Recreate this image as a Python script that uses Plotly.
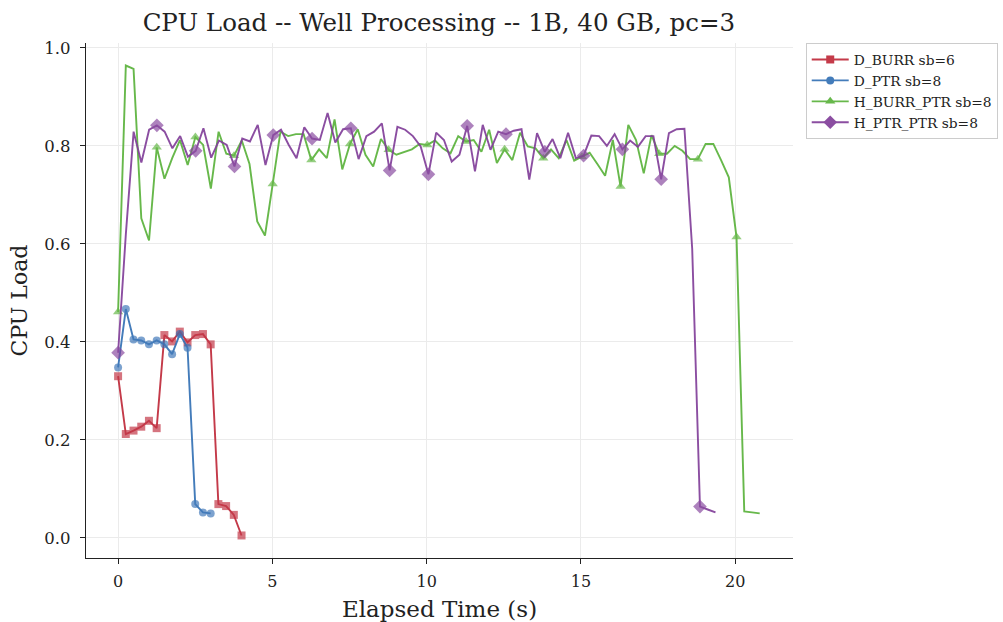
import plotly.graph_objects as go

# ---- data (CPU load sampled at regular intervals) ----
d_burr = [0.330, 0.212, 0.219, 0.227, 0.239, 0.224, 0.414, 0.401, 0.421, 0.399,
          0.414, 0.416, 0.395, 0.069, 0.065, 0.047, 0.005]
d_ptr = [0.348, 0.467, 0.405, 0.403, 0.395, 0.403, 0.395, 0.375, 0.416, 0.388,
         0.069, 0.052, 0.050]
h_burr_ptr = [0.461, 0.964, 0.957, 0.652, 0.607, 0.797, 0.733, 0.775, 0.812, 0.761,
              0.818, 0.802, 0.713, 0.829, 0.784, 0.780, 0.811, 0.763, 0.646, 0.617,
              0.722, 0.829, 0.820, 0.824, 0.824, 0.771, 0.793, 0.775, 0.854, 0.752,
              0.804, 0.834, 0.782, 0.758, 0.814, 0.792, 0.782, 0.788, 0.793, 0.804,
              0.802, 0.811, 0.795, 0.785, 0.820, 0.809, 0.812, 0.788, 0.833, 0.765,
              0.793, 0.771, 0.827, 0.799, 0.795, 0.775, 0.793, 0.775, 0.812, 0.770,
              0.778, 0.786, 0.763, 0.739, 0.812, 0.717, 0.843, 0.812, 0.744, 0.822,
              0.784, 0.784, 0.800, 0.790, 0.773, 0.773, 0.804, 0.804, 0.771, 0.736,
              0.614, 0.054, 0.052, 0.050]
h_ptr_ptr = [0.378, 0.620, 0.829, 0.766, 0.833, 0.842, 0.829, 0.795, 0.820, 0.778,
             0.790, 0.836, 0.776, 0.811, 0.802, 0.758, 0.815, 0.809, 0.843, 0.761,
             0.822, 0.833, 0.802, 0.775, 0.838, 0.815, 0.812, 0.867, 0.807, 0.834,
             0.836, 0.773, 0.820, 0.829, 0.846, 0.750, 0.839, 0.833, 0.820, 0.799,
             0.742, 0.827, 0.812, 0.768, 0.782, 0.841, 0.748, 0.843, 0.792, 0.829,
             0.824, 0.831, 0.834, 0.731, 0.826, 0.788, 0.814, 0.775, 0.827, 0.775,
             0.780, 0.821, 0.820, 0.800, 0.824, 0.793, 0.811, 0.798, 0.820, 0.820,
             0.732, 0.826, 0.834, 0.835, 0.590, 0.064, 0.058, 0.052]

# sampling interval (s) of each run
dt_d_burr = 0.25
dt_d_ptr = 0.25
dt_h_burr_ptr = 0.2505
dt_h_ptr_ptr = 0.2514

names = ["D_BURR sb=6", "D_PTR sb=8", "H_BURR_PTR sb=8", "H_PTR_PTR sb=8"]
x_ticks = [0, 5, 10, 15, 20]
y_ticks = [0.0, 0.2, 0.4, 0.6, 0.8, 1.0]


def times(vals, dt):
    return [round(i * dt, 4) for i in range(len(vals))]


FONT = "DejaVu Serif"
series = [
    (d_burr, dt_d_burr, names[0], "#bf2a3a", "square", 8, 1),
    (d_ptr, dt_d_ptr, names[1], "#3471b5", "circle", 8, 1),
    (h_burr_ptr, dt_h_burr_ptr, names[2], "#5bb33c", "triangle-up", 9, 5),
    (h_ptr_ptr, dt_h_ptr_ptr, names[3], "#823f9a", "diamond", 10.5, 5),
]

fig = go.Figure()
for k, (vals, dt, name, color, symbol, msize, every) in enumerate(series):
    sizes = [msize if i % every == 0 else 0 for i in range(len(vals))]
    fig.add_trace(go.Scatter(
        x=times(vals, dt), y=vals, name=name, mode="lines+markers",
        line=dict(color=color, width=1.9),
        marker=dict(symbol=symbol, size=sizes, color=color, line=dict(width=0)),
        opacity=0.92, showlegend=False, legendgroup=name,
    ))
    # legend entry (line + marker)
    fig.add_trace(go.Scatter(
        x=[None], y=[None], name=name, mode="lines+markers",
        line=dict(color=color, width=1.9),
        marker=dict(symbol=symbol, size=msize, color=color, line=dict(width=0)),
        opacity=0.92, showlegend=True, legendgroup=name, legendrank=k,
    ))

fig.update_layout(
    width=1003, height=622,
    margin=dict(l=86, r=210, t=43, b=64, autoexpand=False),
    paper_bgcolor="white", plot_bgcolor="white",
    font=dict(family=FONT, color="#222222"),
    title=dict(text="CPU Load -- Well Processing -- 1B, 40 GB, pc=3",
               x=0.4375, xanchor="center", y=0.964, yanchor="middle",
               font=dict(family=FONT, size=24.5, color="#222222")),
    legend=dict(x=1.018, y=1.0, xanchor="left", yanchor="top",
                bordercolor="#cccccc", borderwidth=1, bgcolor="white",
                font=dict(family=FONT, size=13.8, color="#222222"),
                itemwidth=37, tracegroupgap=0),
    showlegend=True,
)
fig.update_xaxes(
    range=[-1.04, 21.87], tickvals=x_ticks, ticktext=[str(v) for v in x_ticks],
    showgrid=True, gridcolor="#ebebeb", gridwidth=1, zeroline=False,
    showline=True, linecolor="#222222", linewidth=1.2, automargin=False,
    ticks="outside", ticklen=5, tickcolor="#222222", ticklabelstandoff=4,
    tickfont=dict(family=FONT, size=16),
    title=dict(text="Elapsed Time (s)", font=dict(family=FONT, size=23), standoff=10),
)
fig.update_yaxes(
    range=[-0.041, 1.01], tickvals=y_ticks, ticktext=[f"{v:.1f}" for v in y_ticks],
    showgrid=True, gridcolor="#ebebeb", gridwidth=1, zeroline=False,
    showline=True, linecolor="#222222", linewidth=1.2, automargin=False,
    ticks="outside", ticklen=5, tickcolor="#222222", ticklabelstandoff=6,
    tickfont=dict(family=FONT, size=16.5),
    title=dict(text="CPU Load", font=dict(family=FONT, size=22), standoff=10),
)

fig.write_html("out.html")
